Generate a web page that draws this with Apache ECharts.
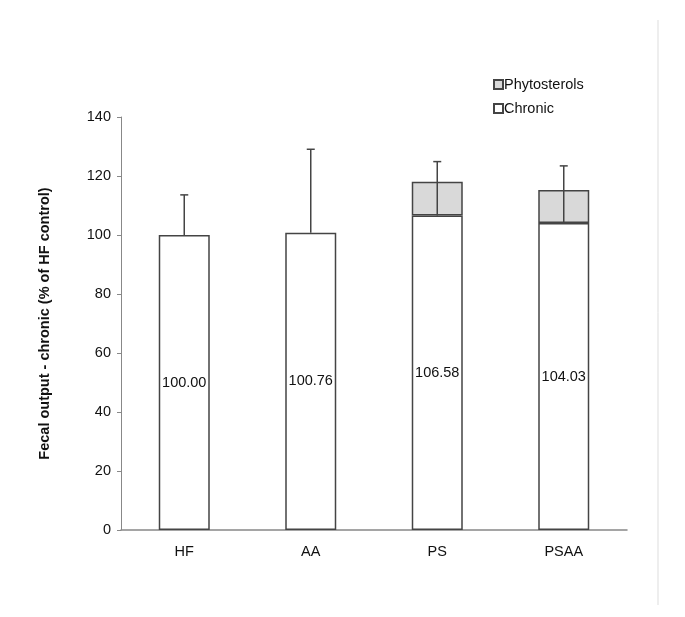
<!DOCTYPE html>
<html>
<head>
<meta charset="utf-8">
<script src="https://cdn.jsdelivr.net/npm/echarts@6/dist/echarts.min.js"></script>
<style>html,body{margin:0;padding:0;background:#fff}#c{width:685px;height:617px}</style>
</head>
<body>
<div id="c"></div>
<script>
const categories = ['HF', 'AA', 'PS', 'PSAA'];
const chronic = [100.00, 100.76, 106.58, 104.03];
const phytosterols = [0, 0, 11.5, 11.2];
const errorPlus = [13.6, 28.3, 6.8, 8.2];
const yTicks = [0, 20, 40, 60, 80, 100, 120, 140];

const totals = chronic.map((v, i) => v + phytosterols[i]);
const errData = categories.map((c, i) => [i, chronic[i], totals[i] + errorPlus[i]]);

const chart = echarts.init(document.getElementById('c'), null, {renderer: 'canvas'});
const font = 'Liberation Sans, Arial, sans-serif';
const fs = 14.5;
chart.setOption({
  animation: false,
  backgroundColor: '#fff',
  grid: {left: 121, right: 58, top: 117, bottom: 87},
  legend: {
    orient: 'vertical', left: 488, top: 72, itemWidth: 9, itemHeight: 9, itemGap: 9,
    icon: 'rect',
    textStyle: {fontFamily: font, fontSize: fs, color: '#111', padding: [0, 0, 0, -4]},
    data: ['Phytosterols', 'Chronic']
  },
  xAxis: {
    type: 'category', data: categories,
    axisLine: {lineStyle: {color: '#888', width: 1.5}},
    axisTick: {show: false},
    axisLabel: {fontFamily: font, fontSize: fs, color: '#111', margin: 14}
  },
  yAxis: {
    type: 'value', min: 0, max: 140, interval: 20,
    name: 'Fecal output - chronic (% of HF control)',
    nameLocation: 'middle', nameGap: 69,
    nameTextStyle: {fontFamily: font, fontSize: fs, fontWeight: 'bold', color: '#111'},
    axisLine: {show: true, lineStyle: {color: '#888', width: 1}},
    axisTick: {show: true, length: 4, lineStyle: {color: '#888'}},
    splitLine: {show: false},
    axisLabel: {fontFamily: font, fontSize: fs, color: '#111', margin: 10,
      formatter: v => yTicks.includes(v) ? String(v) : ''}
  },
  series: [
    {
      name: 'Chronic', type: 'bar', stack: 'a', barWidth: 51, data: chronic,
      itemStyle: {color: '#fff', borderColor: '#444', borderWidth: 1.5},
      label: {show: true, position: 'inside', fontFamily: font, fontSize: fs, color: '#111',
        formatter: p => p.value.toFixed(2)}
    },
    {
      name: 'Phytosterols', type: 'bar', stack: 'a', barWidth: 51,
      data: phytosterols.map(v => v === 0 ? '-' : v),
      itemStyle: {color: '#d9d9d9', borderColor: '#444', borderWidth: 1.5}
    },
    {
      name: 'err', type: 'custom', data: errData, z: 10,
      renderItem: function (params, api) {
        const x = api.value(0);
        const p0 = api.coord([x, api.value(1)]);
        const p1 = api.coord([x, api.value(2)]);
        const st = {stroke: '#444', lineWidth: 1.5};
        return {type: 'group', children: [
          {type: 'line', shape: {x1: p0[0], y1: p0[1], x2: p1[0], y2: p1[1]}, style: st},
          {type: 'line', shape: {x1: p1[0] - 4, y1: p1[1], x2: p1[0] + 4, y2: p1[1]}, style: st}
        ]};
      }
    }
  ],
  graphic: [
    {type: 'line', shape: {x1: 658, y1: 20, x2: 658, y2: 605}, style: {stroke: '#ddd', lineWidth: 1}}
  ]
});
</script>
</body>
</html>
